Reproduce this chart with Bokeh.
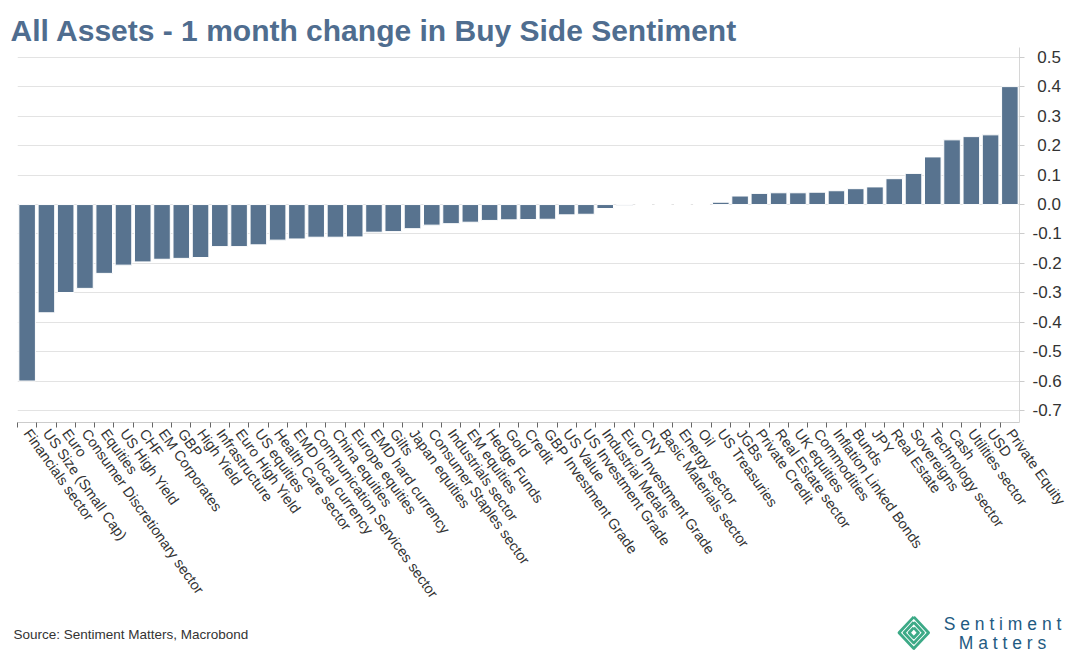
from bokeh.plotting import figure
from bokeh.layouts import column
from bokeh.models import (ColumnDataSource, Range1d, FixedTicker, CustomJSTickFormatter)
from bokeh.core.properties import value
from bokeh.embed import file_html
from bokeh.resources import INLINE

# ---------------- data ----------------
categories = [
    "Financials sector", "US Size (Small Cap)", "Euro", "Consumer Discretionary sector",
    "Equities", "US High Yield", "CHF", "EM Corporates", "GBP", "High Yield",
    "Infrastructure", "Euro High Yield", "US equities", "Health Care sector",
    "EMD local currency", "Communication Services sector", "China equities",
    "Europe equities", "EMD hard currency", "Gilts", "Japan equities",
    "Consumer Staples sector", "Industrials sector", "EM equities", "Hedge Funds",
    "Gold", "Credit", "GBP Investment Grade", "US Value", "US Investment Grade",
    "Industrial Metals", "Euro Investment Grade", "CNY", "Basic Materials sector",
    "Energy sector", "Oil", "US Treasuries", "JGBs", "Private Credit",
    "Real Estate sector", "UK equities", "Commodities", "Inflation Linked Bonds",
    "Bunds", "JPY", "Real Estate", "Sovereigns", "Technology sector", "Cash",
    "Utilities sector", "USD", "Private Equity",
]
change_1m = [
    -0.600, -0.368, -0.299, -0.285, -0.234, -0.206, -0.195, -0.186, -0.183, -0.180,
    -0.143, -0.143, -0.137, -0.121, -0.117, -0.111, -0.111, -0.110, -0.094, -0.092,
    -0.082, -0.070, -0.065, -0.060, -0.054, -0.052, -0.051, -0.050, -0.035, -0.033,
    -0.0135, -0.002, 0.0, 0.0, 0.0, 0.0, 0.008, 0.029, 0.038, 0.040,
    0.040, 0.042, 0.047, 0.054, 0.060, 0.088, 0.106, 0.162, 0.220, 0.231,
    0.237, 0.401,
]
y_ticks = [-0.7, -0.6, -0.5, -0.4, -0.3, -0.2, -0.1, 0.0, 0.1, 0.2, 0.3, 0.4, 0.5]

title_text = "All Assets - 1 month change in Buy Side Sentiment"
source_text = "Source: Sentiment Matters, Macrobond"
logo_line1 = "S e n t i m e n t"
logo_line2 = "M a t t e r s"

BAR = "#58738f"
TITLE_COL = "#4f6d8f"
TXT = "#333333"
W = 1072
MAIN_H, FTR_H = 608, 52
F_LEFT, F_RIGHT, F_TOP, F_BOTTOM = 17, 1019, 47, 422

# ---------------- main chart ----------------
idx = list(range(len(categories)))
src = ColumnDataSource(dict(x=idx, top=change_1m, name=categories))

p = figure(width=W, height=MAIN_H, output_backend="svg", toolbar_location=None,
           x_range=Range1d(-0.5, len(categories) - 0.5),
           y_range=Range1d(-0.741, 0.534), y_axis_location="right",
           min_border_left=F_LEFT, min_border_right=W - F_RIGHT,
           min_border_top=F_TOP, min_border_bottom=MAIN_H - F_BOTTOM)
p.outline_line_color = None
p.background_fill_color = "white"

p.title.text = title_text
p.title.text_font = "Liberation Sans"
p.title.text_font_size = "30px"
p.title.text_font_style = "bold"
p.title.text_color = TITLE_COL
p.title.align = "left"
p.title.offset = -7
p.title.standoff = 2

p.vbar(x="x", top="top", bottom=0, width=0.86, source=src,
       fill_color=BAR, line_color="white", line_width=1)

# x axis
xa = p.xaxis[0]
xa.ticker = FixedTicker(ticks=idx, minor_ticks=[i - 0.5 for i in idx])
xa.major_label_overrides = {i: c for i, c in zip(idx, categories)}
xa.major_label_orientation = -0.95
xa.major_label_text_font = "Liberation Sans"
xa.major_label_text_font_size = "14.5px"
xa.major_label_text_color = TXT
xa.major_tick_line_color = None
xa.major_tick_out = 5
xa.major_tick_in = 0
xa.major_label_standoff = 3
xa.minor_tick_out = 5
xa.minor_tick_in = 0
xa.minor_tick_line_color = "#666666"
xa.axis_line_color = "#cccccc"

# y axis (right)
ya = p.yaxis[0]
ya.ticker = FixedTicker(ticks=y_ticks)
ya.formatter = CustomJSTickFormatter(
    code="return (tick < -1e-9 ? '-' : '\\u2008') + Math.abs(tick).toFixed(1);")
ya.major_label_text_font = "Liberation Sans"
ya.major_label_text_font_size = "17px"
ya.major_label_text_color = TXT
ya.major_tick_out = 5
ya.major_tick_in = 0
ya.major_tick_line_color = "#cccccc"
ya.minor_tick_line_color = None
ya.axis_line_color = "#d6d6d6"
ya.major_label_standoff = 8

p.xgrid.visible = False
p.ygrid.ticker = FixedTicker(ticks=y_ticks)
p.ygrid.grid_line_color = "#e3e3e3"

# ---------------- footer ----------------
ftr = figure(width=W, height=FTR_H, output_backend="svg", toolbar_location=None,
             x_range=Range1d(0, W), y_range=Range1d(0, FTR_H),
             x_axis_type=None, y_axis_type=None, min_border=0)
ftr.frame_align = False
ftr.outline_line_color = None
ftr.grid.visible = False
ftr.text(x=[13], y=[26], text=[source_text], text_font=value("Liberation Sans"),
         text_font_size="13.5px", text_color=TXT, text_baseline="middle", text_align="left")

# logo: nested diamonds
cx, cy = 913.3, 27.8
rings = [(14.8, 15.8), (9.7, 10.4), (4.7, 5.1)]
xs = [[cx, cx + w, cx, cx - w, cx] for w, h in rings]
ys = [[cy + h, cy, cy - h, cy, cy + h] for w, h in rings]
ftr.multi_line(xs=xs, ys=ys, line_color="#3daa87", line_width=2.8, line_join="round")
ftr.text(x=[1002, 1002], y=[36.5, 18], text=[logo_line1, logo_line2],
         text_font=value("Liberation Sans"), text_font_size="17.5px", text_color="#1f5b82",
         text_baseline="middle", text_align="center")

layout = column(p, ftr, spacing=0)
open("out.html", "w").write(file_html(layout, INLINE))
